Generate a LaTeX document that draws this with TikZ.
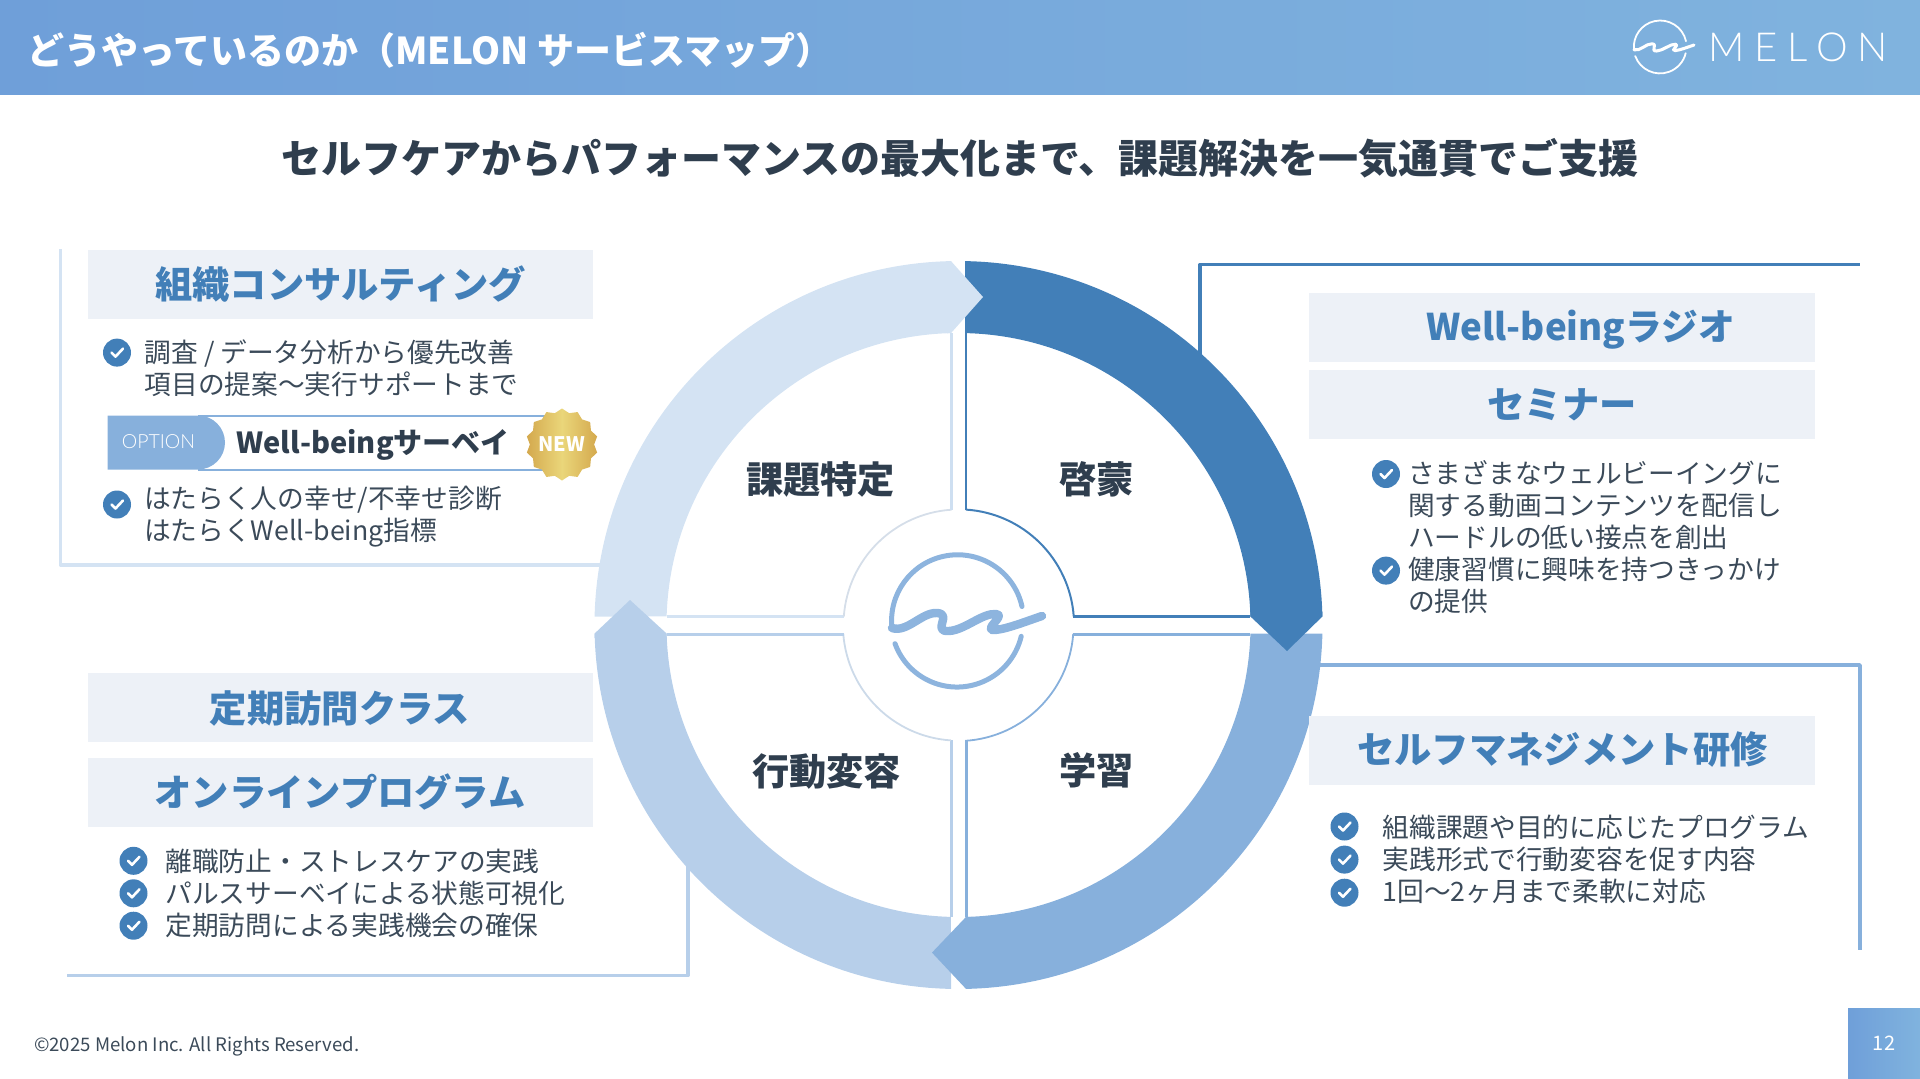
\documentclass[tikz,border=0pt]{standalone}
\usepackage{fontspec}
\setmainfont{Noto Sans CJK JP}
\newfontfamily\latinfont{Lato Light}
\usetikzlibrary{shapes.geometric}
\definecolor{headleft}{HTML}{6F9FD9}
\definecolor{headright}{HTML}{80B3DE}
\definecolor{bandone}{HTML}{D4E3F3}
\definecolor{bandtwo}{HTML}{427FB8}
\definecolor{bandthree}{HTML}{87B0DC}
\definecolor{bandfour}{HTML}{B7CFEA}
\definecolor{boxfill}{HTML}{EDF1F7}
\definecolor{inkdark}{HTML}{2F3E4E}
\definecolor{inkbody}{HTML}{3B4A59}
\definecolor{arcpale}{HTML}{D5DEE9}
\definecolor{goldlight}{HTML}{EAD67A}
\definecolor{golddark}{HTML}{D4A94E}
\tikzset{
  tick/.pic={
    \fill[bandtwo] (0,0) circle (14pt);
    \draw[white, line width=2.6, line cap=round, line join=round] (-5.5,0) -- (-1.5,4) -- (6,-4);
  },
  melonlogo/.pic={
    \draw[line cap=round] (65,-14.5) arc[start angle=12.5, end angle=186, radius=66pt];
    \draw[line cap=round] (-62,22.6) arc[start angle=200, end angle=346.6, radius=66pt];
    \draw[line cap=round, line join=round, line width=1.3\pgflinewidth] (-65,7) .. controls (-50,12) and (-35,-9) .. (-20,-8)
      .. controls (-4,-7) and (-26,11) .. (-8,10) .. controls (8,9) and (25,-8) .. (39,-7)
      .. controls (50,-6) and (24,10) .. (38,9) .. controls (50,8) and (70,0) .. (85,-5);
  }
}
\begin{document}
\begin{tikzpicture}[
  x=1pt, y=-1pt,
  head/.style = {fill=boxfill, minimum width=505.7pt, minimum height=69pt, inner sep=0pt},
  headtext/.style = {text=bandtwo, inner sep=0pt, font=\fontsize{37.3}{44}\selectfont\bfseries},
  ringtext/.style = {text=inkdark, inner sep=0pt, font=\fontsize{37.2}{44}\selectfont\bfseries},
  listtext/.style = {text=inkbody, inner sep=0pt, anchor=west, align=left, font=\fontsize{26.7}{32}\selectfont},
  frame/.style = {line width=3.5pt, line join=round}
]
  \useasboundingbox (0,0) rectangle (1920,1079);
  \shade[left color=headleft, right color=headright] (0,0) rectangle (1920,94.5);
  \node[anchor=west, text=white, inner sep=0pt, font=\fontsize{37}{44}\selectfont\bfseries] (pagetitle) at (27,50)
    {どうやっているのか（MELON サービスマップ）};
  \pic[white, line width=1.8pt, scale=0.4] at (1660,47) {melonlogo};
  \node[anchor=west, text=white, inner sep=0pt, font=\latinfont\fontsize{40}{44}\selectfont\addfontfeature{LetterSpace=25}] (logoword) at (1708,47) {MELON};
  \node[text=inkdark, inner sep=0pt, font=\fontsize{40}{48}\selectfont\bfseries] (subtitle) at (960,158)
    {セルフケアからパフォーマンスの最大化まで、課題解決を一気通貫でご支援};

  % frames behind the ring
  \coordinate (tlstart) at (60.6,249);
  \coordinate (tlend) at (610,565);
  \draw[frame, bandone] (tlstart) |- (tlend);
  \coordinate (blstart) at (67,975.5);
  \coordinate (blend) at (688,860);
  \draw[frame, bandfour] (blstart) -| (blend);
  \coordinate (trstart) at (1200,360);
  \coordinate (trend) at (1860,264.5);
  \draw[frame, bandtwo] (trstart) |- (trend);
  \coordinate (brstart) at (1310,665);
  \coordinate (brend) at (1860,950);
  \draw[frame, bandthree] (brstart) -| (brend);

  % ring
  \fill[bandtwo] (965,261.1) arc[start angle=88.98, end angle=1.34, radius=364pt]
    -- (1250.4,616.5) arc[start angle=1.67, end angle=88.72, radius=292pt] -- cycle;
  \fill[bandthree] (1322.4,633.5) arc[start angle=-1.34, end angle=-88.82, radius=364pt]
    -- (966,916.9) arc[start angle=-88.53, end angle=-1.67, radius=292pt] -- cycle;
  \fill[bandfour] (951,988.9) arc[start angle=-91.18, end angle=-178.66, radius=364pt]
    -- (666.6,633.5) arc[start angle=-178.33, end angle=-91.47, radius=292pt] -- cycle;
  \fill[bandone] (594.6,616.5) arc[start angle=178.66, end angle=91.18, radius=364pt]
    -- (951,333.1) arc[start angle=91.47, end angle=178.33, radius=292pt] -- cycle;
  \fill[bandone] (947,261.3) -- (951,261.1) -- (983,297) -- (951,333.1) -- (947,333.3) -- cycle;
  \fill[bandtwo] (1322.3,612) -- (1322.4,616.5) -- (1287,651) -- (1250.4,616.5) -- (1250.3,612) -- cycle;
  \fill[bandthree] (970,988.8) -- (966,988.9) -- (932,952.6) -- (966,916.9) -- (970,916.8) -- cycle;
  \fill[bandfour] (594.7,638) -- (594.6,633.5) -- (630,600) -- (666.6,633.5) -- (666.7,638) -- cycle;

  % quadrant outlines
  \draw[bandtwo, line width=2.6pt] (966,333) -- (966,509.6);
  \draw[bandtwo, line width=2pt] (966,509.6) arc[start angle=86.3, end angle=4.2, radius=115.5pt];
  \draw[bandtwo, line width=2.6pt] (1073.2,616.5) -- (1250,616.5);
  \draw[bandthree, line width=3pt] (1250,634) -- (1073.2,634);
  \draw[bandthree, line width=1.8pt] (1073.2,634) arc[start angle=-4.2, end angle=-86.3, radius=115.5pt];
  \draw[bandthree, line width=3pt] (966,740.4) -- (966,917);
  \draw[bandfour, line width=3pt] (951,917) -- (951,740.4);
  \draw[arcpale!70!bandfour, line width=1.8pt] (951,740.4) arc[start angle=-93.7, end angle=-175.8, radius=115.5pt];
  \draw[bandfour, line width=3pt] (843.8,634) -- (667,634);
  \draw[bandone, line width=3pt] (667,616.5) -- (843.8,616.5);
  \draw[arcpale, line width=1.8pt] (843.8,616.5) arc[start angle=175.8, end angle=93.7, radius=115.5pt];
  \draw[bandone!80!bandfour, line width=3pt] (951,509.6) -- (951,333);
  \pic[bandthree!95!white, line width=5pt] at (957,621) {melonlogo};

  \node[ringtext] (ringfind) at (820.4,479) {課題特定};
  \node[ringtext] (ringraise) at (1096.5,479) {啓蒙};
  \node[ringtext] (ringact) at (826.5,771.8) {行動変容};
  \node[ringtext] (ringlearn) at (1096.5,770.3) {学習};

  % left top block
  \node[head] (consultbox) at (340.4,284.2) {};
  \node[headtext] (consulttext) at (340.5,284.2) {組織コンサルティング};
  \pic at (117,352.6) {tick};
  \node[listtext] (consultone) at (144.5,368.5) {調査 / データ分析から優先改善\\項目の提案〜実行サポートまで};
  \fill[bandthree] (107.5,415.5) -- (198,415.5) arc[start angle=90, end angle=-90, radius=27pt] -- (107.5,469.5) -- cycle;
  \draw[bandthree, line width=2pt] (198,415.5) -- (546,415.5);
  \draw[bandthree, line width=2pt] (198,469.5) -- (546,469.5);
  \node[text=white, inner sep=0pt, font=\latinfont\fontsize{19.5}{23}\selectfont] (optiontext) at (158.5,442) {OPTION};
  \node[anchor=west, text=inkdark, inner sep=0pt, font=\fontsize{29}{35}\selectfont\bfseries] (surveytext) at (236.3,445) {Well-beingサーベイ};
  \node[star, star points=14, star point ratio=1.12, minimum size=72pt, inner sep=0pt, shading angle=45,
    left color=golddark, right color=golddark, middle color=goldlight] (newstar) at (562,444.5) {};
  \node[text=white, inner sep=0pt, font=\fontsize{20}{24}\selectfont\bfseries] (newtext) at (562,444.5) {NEW};
  \pic at (117,504.5) {tick};
  \node[listtext] (consulttwo) at (144.5,517) {はたらく人の幸せ/不幸せ診断\\はたらくWell-being指標};

  % left bottom block
  \node[head] (visitbox) at (340.4,707.8) {};
  \node[headtext] (visittext) at (340,708.7) {定期訪問クラス};
  \node[head] (onlinebox) at (340.4,792.2) {};
  \node[headtext] (onlinetext) at (340,792) {オンラインプログラム};
  \foreach \tickY in {860.8,893.3,925.7} \pic at (133.5,\tickY) {tick};
  \node[listtext] (visitlist) at (165.3,893.3) {離職防止・ストレスケアの実践\\パルスサーベイによる状態可視化\\定期訪問による実践機会の確保};

  % right top block
  \node[head] (radiobox) at (1561.8,327.5) {};
  \node[headtext, font=\fontsize{36.7}{44}\selectfont\bfseries] (radiotext) at (1580.5,330) {Well-beingラジオ};
  \node[head] (seminarbox) at (1561.8,404.2) {};
  \node[headtext] (seminartext) at (1562,404.5) {セミナー};
  \pic at (1386,474) {tick};
  \pic at (1386,570.6) {tick};
  \node[listtext] (radiolist) at (1408,537) {さまざまなウェルビーイングに\\関する動画コンテンツを配信し\\ハードルの低い接点を創出\\健康習慣に興味を持つきっかけ\\の提供};

  % right bottom block
  \node[head] (managebox) at (1561.8,750) {};
  \node[headtext] (managetext) at (1562.5,749.7) {セルフマネジメント研修};
  \foreach \tickY in {826.5,859.6,892.7} \pic at (1344.5,\tickY) {tick};
  \node[listtext] (managelist) at (1382.5,859) {組織課題や目的に応じたプログラム\\実践形式で行動変容を促す内容\\1回〜2ヶ月まで柔軟に対応};

  % footer
  \node[anchor=west, text=inkbody, inner sep=0pt, font=\fontsize{18.6}{24}\selectfont] (copyright) at (34,1046) {©2025 Melon Inc. All Rights Reserved.};
  \shade[left color=headleft, right color=headright] (1848,1008) rectangle (1920,1079);
  \node[text=white, inner sep=0pt, font=\fontsize{20}{24}\selectfont] (pagenum) at (1884,1043.5) {12};
\end{tikzpicture}
\end{document}
